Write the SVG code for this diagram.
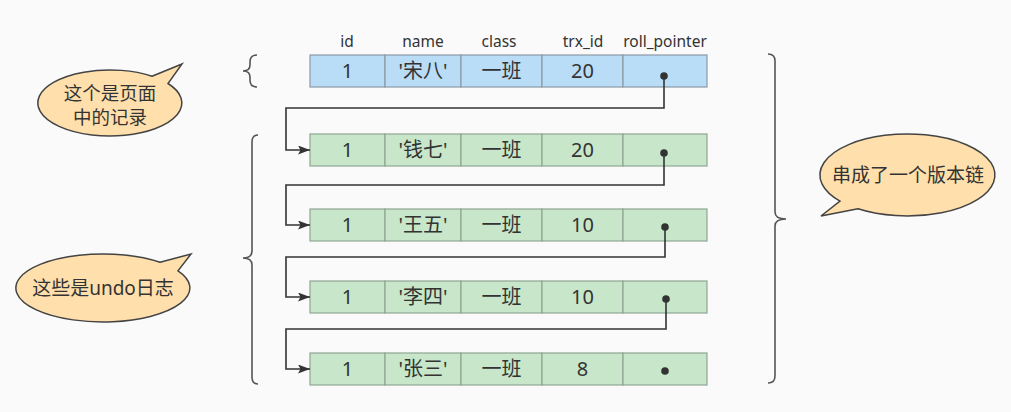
<svg xmlns="http://www.w3.org/2000/svg" width="1011" height="412" viewBox="0 0 1011 412">
<style>
text{font-family:"Noto Sans","Noto Sans CJK SC",sans-serif;fill:#333;text-anchor:middle}
.hdr{font-size:15.5px}
.cell{font-size:20px}
.bub{font-size:19px}
.bub2{font-size:18.5px}
.blue rect{fill:#b9dcf7;stroke:#8c9aa6;stroke-width:1.2}
.green rect{fill:#c7e6ca;stroke:#8fa593;stroke-width:1.2}
.dot{fill:#333}
.brace{fill:none;stroke:#555;stroke-width:1.6}
.callout{fill:#ffdfab;stroke:#444;stroke-width:1.5}
.conn{fill:none;stroke:#333;stroke-width:1.6}
</style>
<defs>
<marker id="arr" markerUnits="userSpaceOnUse" markerWidth="13" markerHeight="10" refX="12" refY="4.5" orient="auto">
<path d="M0,0 L12,4.5 L0,9 L2.5,4.5 Z" fill="#333"/>
</marker>
</defs>
<rect width="1011" height="412" fill="#fafafa"/>

<g id="headers">
<text class="hdr" x="347" y="47">id</text>
<text class="hdr" x="423" y="47">name</text>
<text class="hdr" x="499" y="47">class</text>
<text class="hdr" x="583" y="47">trx_id</text>
<text class="hdr" x="665" y="47">roll_pointer</text>
</g>

<g id="row-songba" class="blue">
<rect x="310" y="55" width="75" height="32"/><rect x="385" y="55" width="76" height="32"/><rect x="461" y="55" width="81" height="32"/><rect x="542" y="55" width="81" height="32"/><rect x="623" y="55" width="84" height="32"/>
<text class="cell" x="347.5" y="78">1</text><text class="cell" x="423" y="78">'宋八'</text><text class="cell" x="501.5" y="78">一班</text><text class="cell" x="582.5" y="78">20</text>
<circle class="dot" cx="664" cy="76" r="3.8"/>
</g>

<g id="row-qianqi" class="green">
<rect x="310" y="134" width="75" height="32"/><rect x="385" y="134" width="76" height="32"/><rect x="461" y="134" width="81" height="32"/><rect x="542" y="134" width="81" height="32"/><rect x="623" y="134" width="84" height="32"/>
<text class="cell" x="347.5" y="157">1</text><text class="cell" x="423" y="157">'钱七'</text><text class="cell" x="501.5" y="157">一班</text><text class="cell" x="582.5" y="157">20</text>
<circle class="dot" cx="664" cy="153" r="3.8"/>
</g>

<g id="row-wangwu" class="green">
<rect x="310" y="209" width="75" height="32"/><rect x="385" y="209" width="76" height="32"/><rect x="461" y="209" width="81" height="32"/><rect x="542" y="209" width="81" height="32"/><rect x="623" y="209" width="84" height="32"/>
<text class="cell" x="347.5" y="232">1</text><text class="cell" x="423" y="232">'王五'</text><text class="cell" x="501.5" y="232">一班</text><text class="cell" x="582.5" y="232">10</text>
<circle class="dot" cx="665" cy="227" r="3.8"/>
</g>

<g id="row-lisi" class="green">
<rect x="310" y="281" width="75" height="32"/><rect x="385" y="281" width="76" height="32"/><rect x="461" y="281" width="81" height="32"/><rect x="542" y="281" width="81" height="32"/><rect x="623" y="281" width="84" height="32"/>
<text class="cell" x="347.5" y="304">1</text><text class="cell" x="423" y="304">'李四'</text><text class="cell" x="501.5" y="304">一班</text><text class="cell" x="582.5" y="304">10</text>
<circle class="dot" cx="666" cy="299" r="3.8"/>
</g>

<g id="row-zhangsan" class="green">
<rect x="310" y="353" width="75" height="32"/><rect x="385" y="353" width="76" height="32"/><rect x="461" y="353" width="81" height="32"/><rect x="542" y="353" width="81" height="32"/><rect x="623" y="353" width="84" height="32"/>
<text class="cell" x="347.5" y="376">1</text><text class="cell" x="423" y="376">'张三'</text><text class="cell" x="501.5" y="376">一班</text><text class="cell" x="582.5" y="376">8</text>
<circle class="dot" cx="665" cy="371" r="3.8"/>
</g>

<g id="connectors">
<path class="conn" d="M664,76 V108 H286 V150 H310" marker-end="url(#arr)"/>
<path class="conn" d="M664,153 V185 H286 V225 H310" marker-end="url(#arr)"/>
<path class="conn" d="M665,227 V257 H286 V297 H310" marker-end="url(#arr)"/>
<path class="conn" d="M666,299 V329 H286 V369 H310" marker-end="url(#arr)"/>
</g>

<g id="brace-page">
<path class="brace" d="M257,55 Q250,55 250,62 L250,65 Q250,71 243,71 Q250,71 250,77 L250,80 Q250,87 257,87"/>
</g>
<g id="brace-undo">
<path class="brace" d="M258,135 Q252,135 252,142 L252,251 Q252,258 243,258 Q252,258 252,265 L252,377 Q252,384 258,384"/>
</g>
<g id="brace-chain">
<path class="brace" d="M768,54 Q775,54 775,61 L775,212 Q775,219 786,219 Q775,219 775,226 L775,376 Q775,383 768,383"/>
</g>

<g id="callout-page">
<path class="callout" d="M152,76.2 L182,64 L168,83.5 A72,33 0 1 1 152,76.2 Z"/>
<text class="bub2" x="110" y="100">这个是页面</text>
<text class="bub2" x="110" y="124">中的记录</text>
</g>

<g id="callout-undo">
<path class="callout" d="M160,262.3 L191,254 L178,270.8 A87,34 0 1 1 160,262.3 Z"/>
<text class="bub" x="103" y="295">这些是undo日志</text>
</g>

<g id="callout-chain">
<path class="callout" d="M858,208.8 L821,216 L840,201.1 A87.5,41 0 1 1 858,208.8 Z"/>
<text class="bub" x="908" y="182">串成了一个版本链</text>
</g>
</svg>
